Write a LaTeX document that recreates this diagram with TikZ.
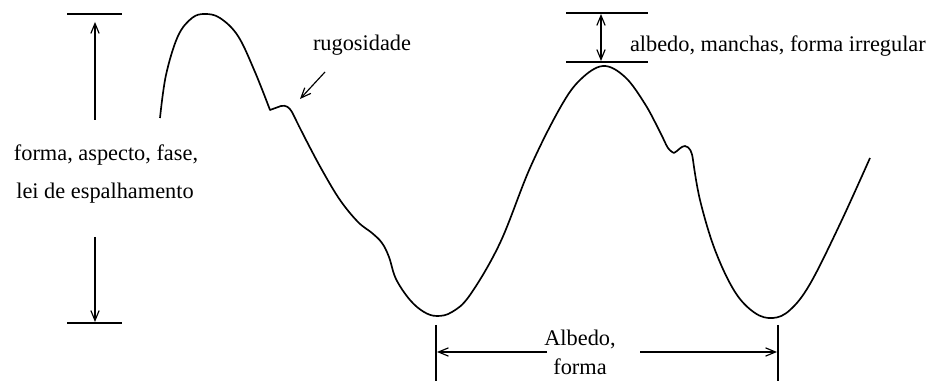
\documentclass[tikz,border=0pt]{standalone}
\usepackage{fontspec}
\setmainfont{Liberation Serif}
\usetikzlibrary{arrows.meta}
\begin{document}
\begin{tikzpicture}[x=0.6pt,y=-0.6pt,
  lbl/.style={font=\fontsize{13.4}{15}\selectfont, inner sep=1pt},
  dimline/.style={line width=0.8pt},
  arr/.style={line width=0.7pt,-{Straight Barb[length=6pt,width=5pt]}},
  darr/.style={line width=0.7pt,{Straight Barb[length=6pt,width=5pt]}-{Straight Barb[length=6pt,width=5pt]}},
  curve/.style={line width=1pt, line join=round}]
\useasboundingbox (0,0) rectangle (928,383);
% left dimension
\coordinate (lt1) at (67,14); \coordinate (lt2) at (122,14);
\coordinate (lb1) at (67,323); \coordinate (lb2) at (122,323);
\draw[dimline] (lt1) -- (lt2);
\draw[dimline] (lb1) -- (lb2);
\node[lbl] (lt) at (106,155) {forma, aspecto, fase,};
\node[lbl] (lb) at (105,193) {lei de espalhamento};
\coordinate (la1) at (95,120); \coordinate (la2) at (95,22);
\coordinate (la3) at (95,237); \coordinate (la4) at (95,322);
\draw[arr] (la1) -- (la2);
\draw[arr] (la3) -- (la4);
% top right dimension
\coordinate (rt1) at (566,13); \coordinate (rt2) at (648,13);
\coordinate (rb1) at (566,62); \coordinate (rb2) at (648,62);
\draw[dimline] (rt1) -- (rt2);
\draw[dimline] (rb1) -- (rb2);
\coordinate (ra1) at (601,14); \coordinate (ra2) at (601,61);
\draw[darr] (ra1) -- (ra2);
\node[lbl, anchor=west] (alb) at (628,46) {albedo, manchas, forma irregular};
% rugosidade
\node[lbl] (rug) at (362,45) {rugosidade};
\coordinate (rugtip) at (300,99);
\draw[arr] (325,72) -- (rugtip);
% bottom dimension
\coordinate (bl1) at (436,325); \coordinate (bl2) at (436,381);
\coordinate (br1) at (778,325); \coordinate (br2) at (778,381);
\draw[dimline] (bl1) -- (bl2);
\draw[dimline] (br1) -- (br2);
\node[lbl] (bt1) at (580,339) {Albedo,};
\node[lbl] (bt2) at (580,367) {forma};
\coordinate (ba1) at (547,352); \coordinate (ba2) at (437,352);
\coordinate (ba3) at (640,352); \coordinate (ba4) at (777,352);
\draw[arr] (ba1) -- (ba2);
\draw[arr] (ba3) -- (ba4);
% curve
\draw[curve] plot[smooth, tension=0.6] coordinates {(160,118) (166,75) (178,36) (192,18) (205,14) (220,18) (238,36) (255,72) (270,110)}
  -- (281,106) .. controls (286,105) and (289,107) .. (292,112)
  plot[smooth, tension=0.6] coordinates {(292,112) (305,138) (322,170) (340,200) (358,222) (372,233) (382,243) (389,257) (396,279) (410,300) (424,312) (437,316) (452,312) (470,295) (500,243) (530,168) (560,108) (580,80) (603,66) (625,77) (645,104) (660,132) (668,148) (674,153)}
  .. controls (678,151) and (681,146) .. (685,146) .. controls (690,147) and (692,152) .. (693,160)
  plot[smooth, tension=0.6] coordinates {(693,160) (700,200) (715,250) (735,292) (755,313) (773,318) (790,310) (810,284) (840,224) (870,158)};
\end{tikzpicture}
\end{document}
